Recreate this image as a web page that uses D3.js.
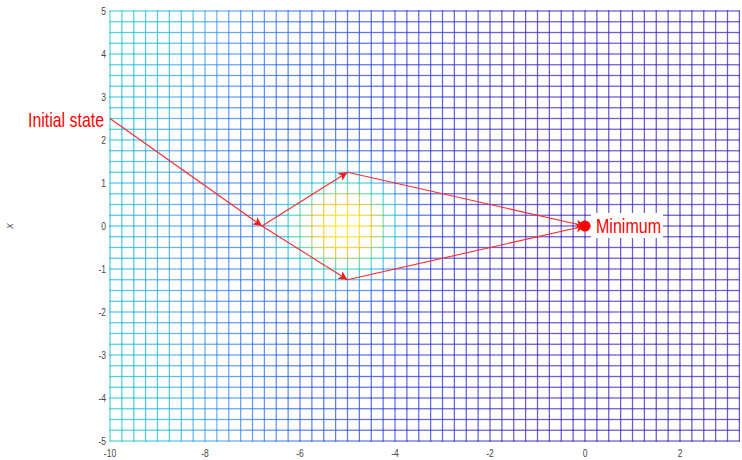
<!DOCTYPE html>
<html lang="en">
<head>
<meta charset="UTF-8">
<script src="https://d3js.org/d3.v7.min.js"></script>
<style>
  body { margin: 0; background: #fff; }
  text { font-family: "Liberation Sans Narrow", "Liberation Sans", Arial, sans-serif; }
</style>
</head>
<body>
<div id="chart"></div>
<script>
// mesh coordinates
var meshX = d3.range(0, 54).map(function (i) { return -10 + i * 0.25; });
var meshY = d3.range(0, 41).map(function (i) { return -5 + i * 0.25; });

// tick labels
var xTicks = [-10, -8, -6, -4, -2, 0, 2];
var yTicks = [-5, -4, -3, -2, -1, 0, 1, 2, 3, 4, 5];

// path of the iterations
var startPoint = [-10, 2.5];
var arrowFrom = [[-10, 2.5], [-6.8, 0], [-6.8, 0], [-5, 1.25], [-5, -1.25]];
var arrowTo   = [[-6.8, 0], [-5, 1.25], [-5, -1.25], [0, 0], [0, 0]];
var minPoint = [0, 0];

var width = 742, height = 460;

var svg = d3.select("#chart").append("svg")
    .attr("width", width)
    .attr("height", height);

var x = d3.scaleLinear().domain([-10, 2]).range([110, 680]);
var y = d3.scaleLinear().domain([-5, 5]).range([441, 11]);

// colour of the surface (parula-like, seen from above)
var cmap = d3.scaleLinear()
    .domain([0, 0.2, 0.3, 0.42, 0.5, 0.58, 0.7, 0.8, 1])
    .range(["#5346c8", "#4a5ee8", "#4878f0", "#58a8f0", "#38c4e4", "#40d4c8", "#86d68a", "#f0c23a", "#fff020"])
    .clamp(true);

function level(px, py) {
    var s = Math.max(0, Math.min(1, (-px - 1.5) / 8.5));
    var base = 0.5 * s + 0.08 * s * (py / 5) * (py / 5);
    var r2 = (px + 5) * (px + 5) + py * py;
    return base + 0.78 * Math.exp(-r2 / (2 * 0.85 * 0.85));
}

var segs = [];
meshX.forEach(function (mx) {
    for (var j = 0; j < meshY.length - 1; j++) {
        segs.push({ x1: mx, y1: meshY[j], x2: mx, y2: meshY[j + 1] });
    }
});
meshY.forEach(function (my) {
    for (var i = 0; i < meshX.length - 1; i++) {
        segs.push({ x1: meshX[i], y1: my, x2: meshX[i + 1], y2: my });
    }
});

svg.append("g").selectAll("line")
    .data(segs)
    .enter().append("line")
    .attr("x1", function (d) { return x(d.x1); })
    .attr("y1", function (d) { return y(d.y1); })
    .attr("x2", function (d) { return x(d.x2); })
    .attr("y2", function (d) { return y(d.y2); })
    .attr("stroke", function (d) { return cmap(level((d.x1 + d.x2) / 2, (d.y1 + d.y2) / 2)); })
    .attr("stroke-width", 1.25)
    .attr("stroke-opacity", 0.88)
    .attr("stroke-linecap", "square");

// tick labels (condensed look)
svg.append("g").selectAll("text")
    .data(xTicks)
    .enter().append("text")
    .attr("transform", function (d) { return "translate(" + x(d) + ",457) scale(0.85,1)"; })
    .attr("text-anchor", "middle")
    .attr("font-size", 10)
    .attr("fill", "#444")
    .text(function (d) { return d; });

svg.append("g").selectAll("text")
    .data(yTicks)
    .enter().append("text")
    .attr("transform", function (d) { return "translate(106," + (y(d) + 3.5) + ") scale(0.85,1)"; })
    .attr("text-anchor", "end")
    .attr("font-size", 10)
    .attr("fill", "#444")
    .text(function (d) { return d; });

svg.append("text")
    .attr("transform", "translate(13," + y(0) + ") rotate(-90)")
    .attr("text-anchor", "middle")
    .attr("font-size", 11)
    .attr("font-style", "italic")
    .attr("fill", "#555")
    .text("x");

// arrows
var defs = svg.append("defs");
defs.append("marker")
    .attr("id", "head")
    .attr("viewBox", "0 0 10 10")
    .attr("refX", 10)
    .attr("refY", 5)
    .attr("markerUnits", "userSpaceOnUse")
    .attr("markerWidth", 12)
    .attr("markerHeight", 9)
    .attr("orient", "auto")
    .append("path")
    .attr("d", "M0,0 L10,5 L0,10 L2.5,5 Z")
    .attr("fill", "#ff1a1a");

svg.append("g").selectAll("line")
    .data(arrowFrom)
    .enter().append("line")
    .attr("x1", function (d) { return x(d[0]); })
    .attr("y1", function (d) { return y(d[1]); })
    .attr("x2", function (d, i) { return x(arrowTo[i][0]); })
    .attr("y2", function (d, i) { return y(arrowTo[i][1]); })
    .attr("stroke", "#ff2a2a")
    .attr("stroke-width", 1.1)
    .attr("marker-end", "url(#head)");

svg.append("circle")
    .attr("cx", x(minPoint[0]))
    .attr("cy", y(minPoint[1]))
    .attr("r", 5.5)
    .attr("fill", "#ff0000");

// labels
svg.append("text")
    .attr("x", x(startPoint[0]) - 6)
    .attr("y", y(startPoint[1]) + 8)
    .attr("text-anchor", "end")
    .attr("font-size", 21)
    .attr("textLength", 76)
    .attr("lengthAdjust", "spacingAndGlyphs")
    .attr("fill", "#ff0000")
    .text("Initial state");

svg.append("rect")
    .attr("x", x(minPoint[0]) + 6)
    .attr("y", y(minPoint[1]) - 13)
    .attr("width", 72)
    .attr("height", 25)
    .attr("fill", "#fff");

svg.append("text")
    .attr("x", x(minPoint[0]) + 11)
    .attr("y", y(minPoint[1]) + 7)
    .attr("font-size", 21)
    .attr("textLength", 65)
    .attr("lengthAdjust", "spacingAndGlyphs")
    .attr("fill", "#ff0000")
    .text("Minimum");
</script>
</body>
</html>
